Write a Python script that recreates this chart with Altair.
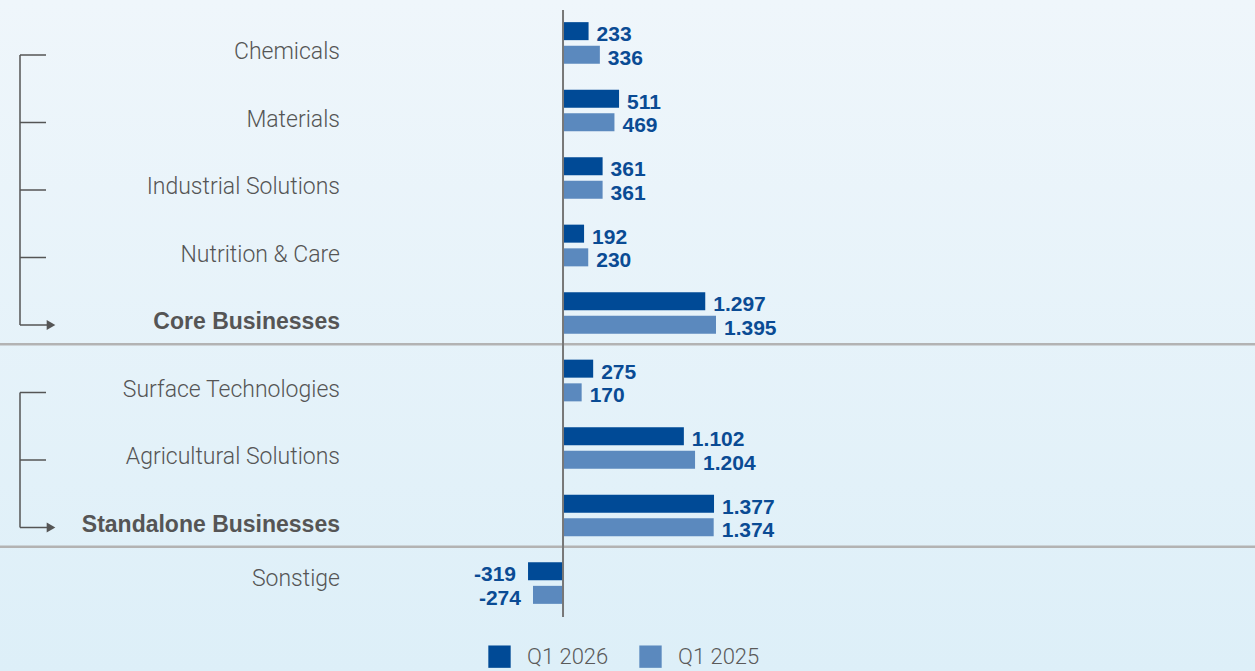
import altair as alt
import pandas as pd

# ---------------- data ----------------
categories = [
    "Chemicals", "Materials", "Industrial Solutions", "Nutrition & Care",
    "Core Businesses", "Surface Technologies", "Agricultural Solutions",
    "Standalone Businesses", "Sonstige",
]
series = ["Q1 2026", "Q1 2025"]
q1_2026 = [233, 511, 361, 192, 1297, 275, 1102, 1377, -319]
q1_2025 = [336, 469, 361, 230, 1395, 170, 1204, 1374, -274]
totals = ["Core Businesses", "Standalone Businesses"]
group_core = ["Chemicals", "Materials", "Industrial Solutions", "Nutrition & Care", "Core Businesses"]
group_standalone = ["Surface Technologies", "Agricultural Solutions", "Standalone Businesses"]
colors = ["#004a96", "#5b89be"]


def de_fmt(v):
    return f"{v:,}".replace(",", ".")


rows = []
for c, a, b in zip(categories, q1_2026, q1_2025):
    rows.append({"cat": c, "series": series[0], "value": a, "label": de_fmt(a)})
    rows.append({"cat": c, "series": series[1], "value": b, "label": de_fmt(b)})
bars_df = pd.DataFrame(rows)

cat_df = pd.DataFrame({"cat": categories, "total": [c in totals for c in categories]})

br_rows = []
for gname, members in (("core", group_core), ("standalone", group_standalone)):
    for i, m in enumerate(members):
        br_rows.append({"group": gname, "cat": m, "last": i == len(members) - 1})
br_df = pd.DataFrame(br_rows)
span_df = pd.DataFrame([
    {"group": "core", "first": group_core[0], "last": group_core[-1]},
    {"group": "standalone", "first": group_standalone[0], "last": group_standalone[-1]},
])
sep_df = pd.DataFrame({"cat": totals})

# ---------------- scales ----------------
W, H = 1255, 671
FONT = "Liberation Sans"
LFONT = "Roboto"
xscale = alt.Scale(domain=[-5134, 6310], nice=False, zero=False)
yscale = alt.Scale(domain=categories, range=[9.25, 616.75], paddingInner=0, paddingOuter=0)
yoff = alt.YOffset("series:N", scale=alt.Scale(domain=series, paddingInner=0.24, paddingOuter=0.544))

Y = lambda f="cat": alt.Y(f"{f}:N", scale=yscale, axis=None)

# background gradient
bg = alt.Chart(alt.Data(values=[{"a": 1}])).mark_rect(
    color=alt.LinearGradient(
        gradient="linear", x1=0, x2=0, y1=0, y2=1,
        stops=[alt.GradientStop(offset=0, color="#eff6fb"),
               alt.GradientStop(offset=1, color="#ddeff8")],
    )
).encode(x=alt.value(0), x2=alt.value(W), y=alt.value(0), y2=alt.value(H))

bars = alt.Chart(bars_df).mark_bar().encode(
    x=alt.X("value:Q", scale=xscale, axis=None),
    y=Y(),
    yOffset=yoff,
    color=alt.Color(
        "series:N",
        scale=alt.Scale(domain=series, range=colors),
        legend=alt.Legend(
            orient="none", direction="horizontal", legendX=488, legendY=645,
            title=None, symbolType="square", symbolSize=500, symbolStrokeWidth=0,
            labelFontSize=22, labelColor="#5a5a5a", labelFont=LFONT, labelFontWeight=300,
            labelOffset=16, columnPadding=30, symbolOpacity=1,
        ),
    ),
)

vals_pos = alt.Chart(bars_df).transform_filter("datum.value >= 0").mark_text(
    align="left", baseline="middle", dx=8, dy=4, fontSize=21, fontWeight="bold",
    font=FONT, color="#0a4b94",
).encode(x=alt.X("value:Q", scale=xscale), y=Y(), yOffset=yoff, text="label:N")

vals_neg = alt.Chart(bars_df).transform_filter("datum.value < 0").mark_text(
    align="right", baseline="middle", dx=-12, dy=4, fontSize=21, fontWeight="bold",
    font=FONT, color="#0a4b94",
).encode(x=alt.X("value:Q", scale=xscale), y=Y(), yOffset=yoff, text="label:N")

lab_kw = dict(align="right", baseline="middle", fontSize=23, color="#555555")
labels_norm = alt.Chart(cat_df).transform_filter(
    "!datum.total && datum.cat != 'Sonstige'"
).mark_text(dy=9, font=LFONT, fontWeight=300, **lab_kw).encode(x=alt.value(340), y=Y(), text="cat:N")
labels_bold = alt.Chart(cat_df).transform_filter("datum.total").mark_text(
    dy=9, fontWeight="bold", font=FONT, **lab_kw
).encode(x=alt.value(340), y=Y(), text="cat:N")
labels_other = alt.Chart(cat_df).transform_filter("datum.cat == 'Sonstige'").mark_text(
    dy=-4, font=LFONT, fontWeight=300, **lab_kw
).encode(x=alt.value(340), y=Y(), text="cat:N")

# separators
seps = alt.Chart(sep_df).mark_rule(color="#b3b3b3", strokeWidth=2.5, yOffset=-2.5).encode(
    x=alt.value(0), x2=alt.value(W),
    y=alt.Y("cat:N", scale=yscale, axis=None, bandPosition=1),
)

# zero axis line
axis_line = alt.Chart(alt.Data(values=[{"a": 1}])).mark_rule(color="#777777", strokeWidth=2).encode(
    x=alt.X(datum=0, scale=xscale), y=alt.value(10), y2=alt.value(617)
)

# brackets
BR = "#555555"
br_ticks = alt.Chart(br_df).transform_filter("!datum.last").mark_rule(
    color=BR, strokeWidth=1.5, yOffset=12
).encode(x=alt.value(20), x2=alt.value(46), y=Y())
br_arrow = alt.Chart(br_df).transform_filter("datum.last").mark_rule(
    color=BR, strokeWidth=1.5, yOffset=12
).encode(x=alt.value(20), x2=alt.value(48), y=Y())
br_head = alt.Chart(br_df).transform_filter("datum.last").mark_point(
    shape="triangle-right", filled=True, size=100, color=BR, opacity=1, yOffset=12
).encode(x=alt.value(51), y=Y())
br_span = alt.Chart(span_df).mark_rule(
    color=BR, strokeWidth=1.5, yOffset=12, y2Offset=12
).encode(
    x=alt.value(20),
    y=alt.Y("first:N", scale=yscale, axis=None, bandPosition=0.5),
    y2=alt.Y2("last:N", bandPosition=0.5),
)

chart = alt.layer(
    bg, seps, bars, vals_pos, vals_neg, axis_line,
    labels_norm, labels_bold, labels_other,
    br_span, br_ticks, br_arrow, br_head,
).properties(
    width=W, height=H, padding=0, autosize=alt.AutoSizeParams(type="none"),
).configure_view(stroke=None)

chart.save("out.html", embed_options={"renderer": "svg", "actions": False})
